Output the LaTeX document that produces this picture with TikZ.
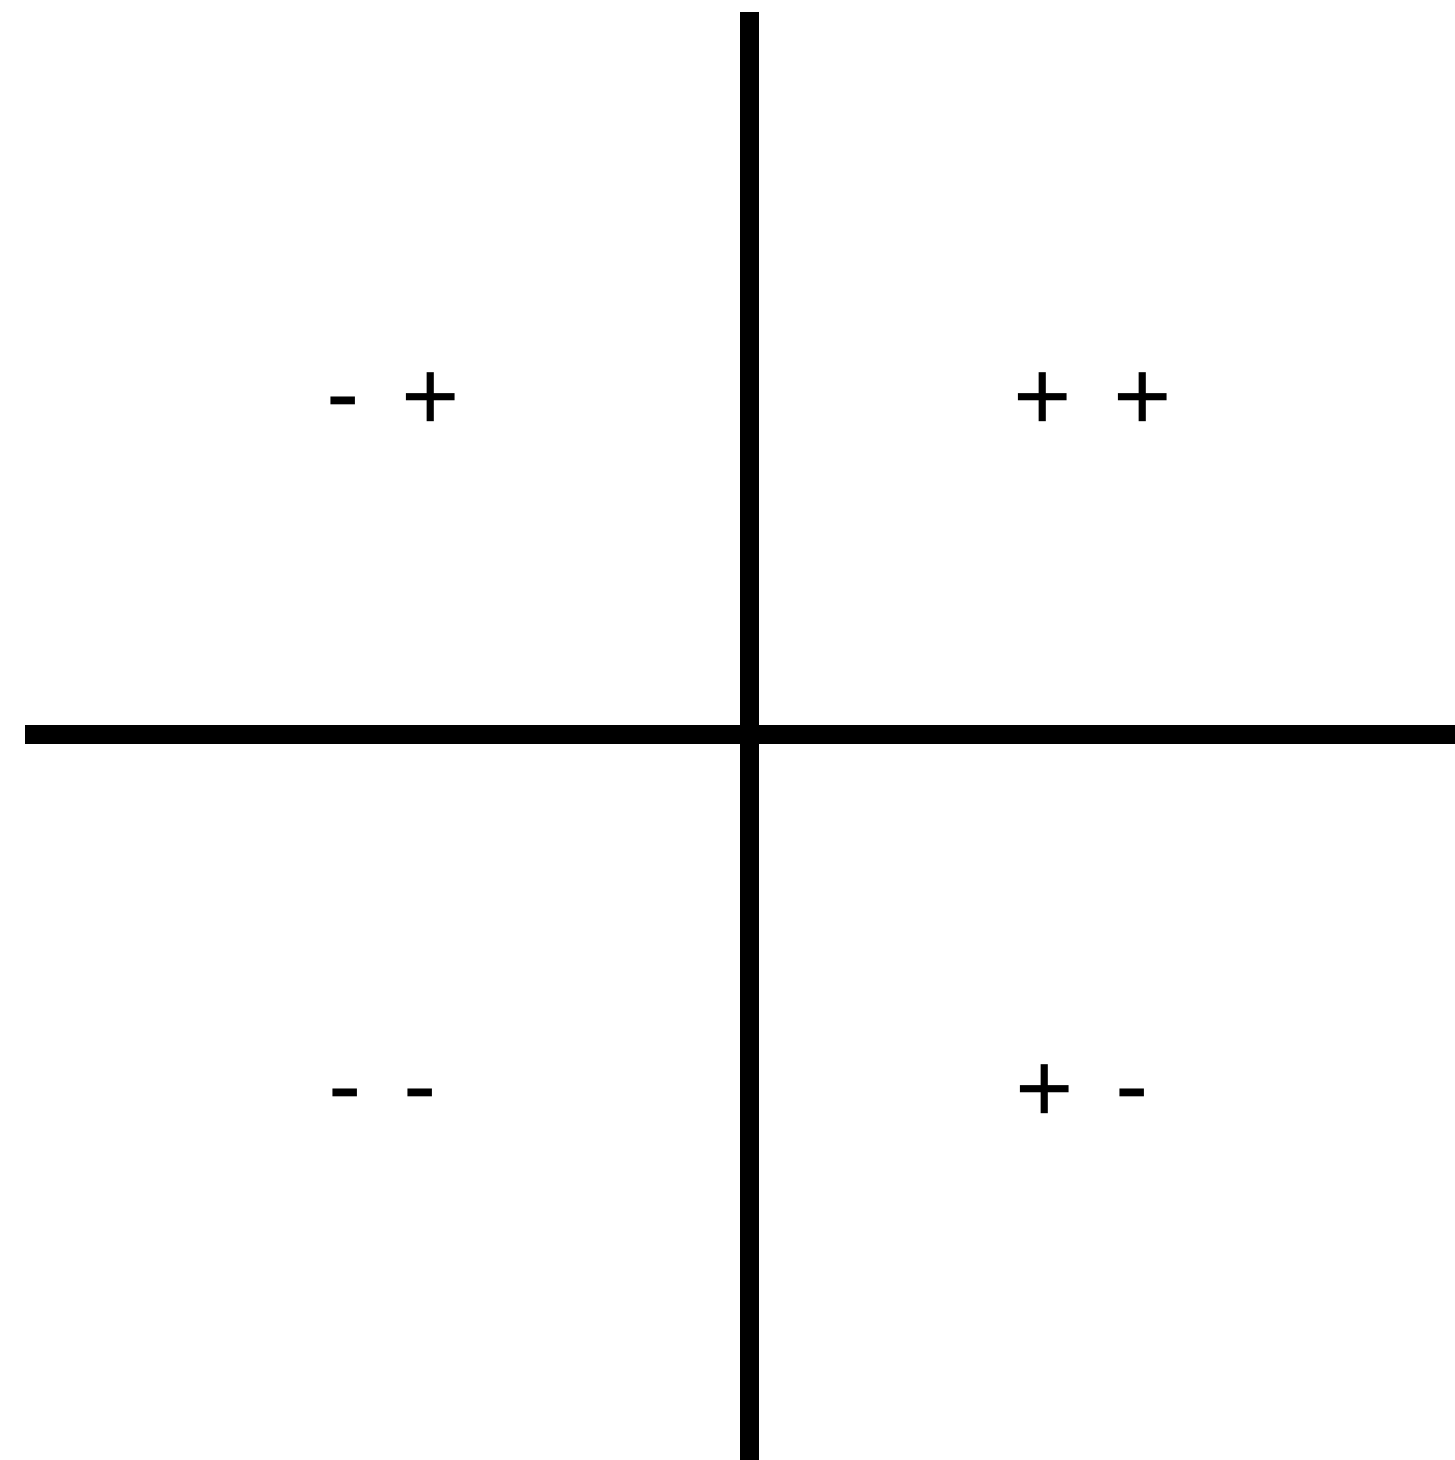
\documentclass[tikz,border=0pt]{standalone}
\usepackage{fontspec}
\setmainfont{Liberation Sans}
\usepackage{tikz}
\usetikzlibrary{positioning, calc}
\newcommand{\hyph}{\raisebox{0.035cm}{-}}

\begin{document}
\begin{tikzpicture}[
  axis/.style={line width=0.19cm, black},
  sign/.style={anchor=base, inner sep=0pt, font=\fontsize{28.5}{34}\selectfont}
]
\useasboundingbox (0,0) rectangle (14.55,14.60);
% axes
\coordinate (top) at (7.49,14.48);
\coordinate (bottom) at (7.49,0);
\coordinate (left) at (0.25,7.25);
\coordinate (right) at (14.55,7.25);
\draw[axis] (top) -- (bottom);
\draw[axis] (left) -- (right);
% quadrant signs
\node[sign] (mp) at (3.935,10.29) {\hyph\hspace{0.42cm}+};
\node[sign] (pp) at (10.925,10.29) {+\hspace{0.42cm}+};
\node[sign] (mm) at (3.825,3.37) {\hyph\hspace{0.42cm}\hyph};
\node[sign] (pm) at (10.82,3.37) {+\hspace{0.42cm}\hyph};
\end{tikzpicture}
\end{document}
